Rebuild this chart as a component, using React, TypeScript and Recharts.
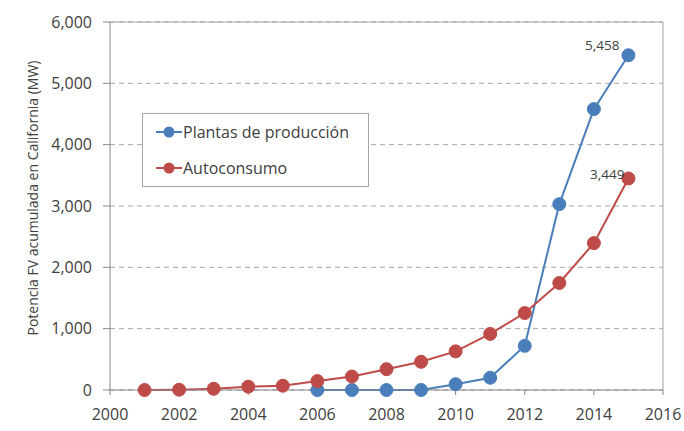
import React from "react";
import {
  LineChart,
  Line,
  XAxis,
  YAxis,
  CartesianGrid,
  Legend,
  ReferenceLine,
} from "recharts";

const years = [2001, 2002, 2003, 2004, 2005, 2006, 2007, 2008, 2009, 2010, 2011, 2012, 2013, 2014, 2015];
const plantas = [null, null, null, null, null, 0, 0, 0, 0, 95, 200, 720, 3030, 4580, 5458];
const autoconsumo = [0, 5, 20, 55, 70, 145, 220, 340, 460, 630, 915, 1255, 1745, 2395, 3449];
const seriesNames = ["Plantas de producción", "Autoconsumo"];
const xTicks = [2000, 2002, 2004, 2006, 2008, 2010, 2012, 2014, 2016];
const yTicks = [0, 1000, 2000, 3000, 4000, 5000, 6000];

const data = years.map((year, i) => ({
  year,
  plantas: plantas[i],
  autoconsumo: autoconsumo[i],
}));

const BLUE = "#4a7ebb";
const RED = "#be4b48";
const TEXT = "#404040";
const FONT = "'Open Sans', sans-serif";

const fmt = (v: number) => v.toLocaleString("en-US");

// solo la etiqueta del ultimo punto
const lastLabel = (dx: number, dy: number) => (props: any) => {
  const { x, y, value, index } = props;
  if (index !== years.length - 1) return null;
  return (
    <text x={x + dx} y={y + dy} textAnchor="end" fontSize={13.5} fill={TEXT} fontFamily={FONT}>
      {fmt(value)}
    </text>
  );
};

const LegendBox = ({ payload }: any) => {
  const items = seriesNames
    .map((n) => (payload || []).find((p: any) => p.value === n))
    .filter(Boolean);
  return (
    <div
      style={{
        border: "1px solid #a6a6a6",
        background: "#fff",
        padding: "0 0 0 13px",
        width: 212,
        fontFamily: FONT,
        fontSize: 16,
        color: TEXT,
      }}
    >
      {items.map((item: any, i: number) => (
        <div key={i} style={{ display: "flex", alignItems: "center", height: 36 }}>
          <svg width={26} height={14} style={{ marginRight: 1 }}>
            <line x1={0} y1={7} x2={26} y2={7} stroke={item.color} strokeWidth={2} />
            <circle cx={13} cy={7} r={5.5} fill={item.color} />
          </svg>
          <span>{item.value}</span>
        </div>
      ))}
    </div>
  );
};

export default function App() {
  return (
    <div style={{ position: "absolute", left: 0, top: 0, background: "#fff" }}>
      <LineChart
        width={684}
        height={431}
        data={data}
        margin={{ top: 22, right: 21, bottom: 11, left: 50 }}
      >
        <CartesianGrid vertical={false} stroke="#a6a6a6" strokeDasharray="5 4" />
        <ReferenceLine y={6000} stroke="#a6a6a6" />
        <ReferenceLine x={2016} stroke="#a6a6a6" />
        <XAxis
          dataKey="year"
          type="number"
          domain={[2000, 2016]}
          ticks={xTicks}
          height={30}
          stroke="#868686"
          tickSize={5}
          tickMargin={14}
          tick={{ fill: TEXT, fontSize: 16, fontFamily: FONT }}
        />
        <YAxis
          domain={[0, 6000]}
          ticks={yTicks}
          width={60}
          stroke="#868686"
          tickSize={7}
          tickMargin={11}
          tickFormatter={fmt}
          tick={{ fill: TEXT, fontSize: 16, fontFamily: FONT }}
          label={{
            value: "Potencia FV acumulada en California (MW)",
            angle: -90,
            position: "insideLeft",
            dx: -22,
            dy: -8,
            style: { fill: TEXT, fontSize: 14, fontFamily: FONT, textAnchor: "middle" },
          }}
        />
        <Legend
          layout="vertical"
          verticalAlign="middle"
          align="center"
          content={<LegendBox />}
          wrapperStyle={{ left: 142, top: 113, width: 226 }}
        />
        <Line
          name={seriesNames[0]}
          dataKey="plantas"
          stroke={BLUE}
          strokeWidth={2}
          dot={{ r: 6.5, fill: BLUE, stroke: BLUE, strokeWidth: 1 }}
          label={lastLabel(-9, -5)}
          isAnimationActive={false}
        />
        <Line
          name={seriesNames[1]}
          dataKey="autoconsumo"
          stroke={RED}
          strokeWidth={2}
          dot={{ r: 6.5, fill: RED, stroke: RED, strokeWidth: 1 }}
          label={lastLabel(-4, 1)}
          isAnimationActive={false}
        />
      </LineChart>
    </div>
  );
}
